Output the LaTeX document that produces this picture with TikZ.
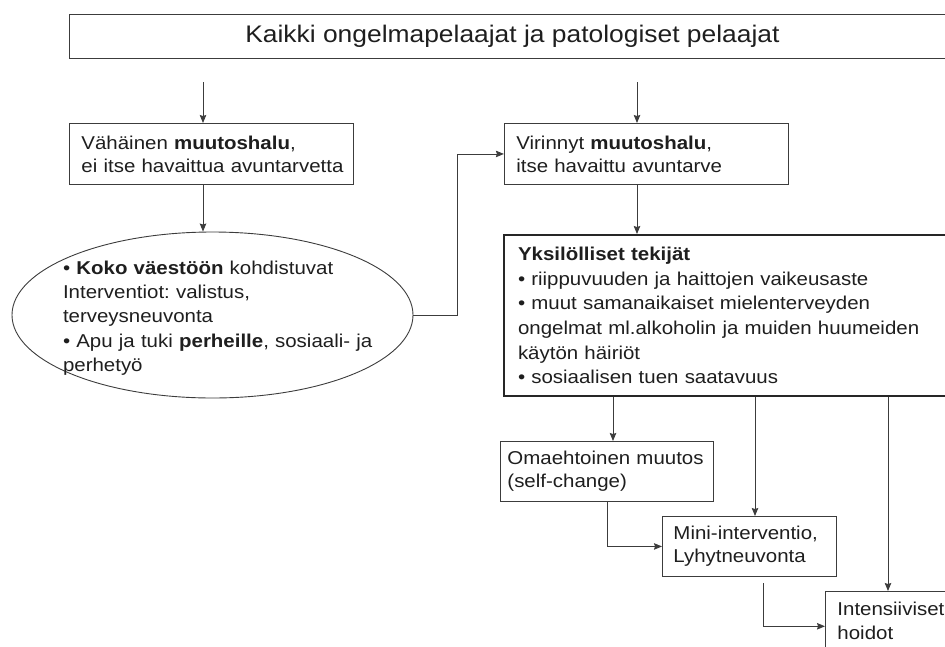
\documentclass[tikz,border=0pt]{standalone}
\usepackage{fontspec}
\setmainfont[FakeStretch=1.1]{Liberation Sans}
\usetikzlibrary{arrows.meta, positioning, shapes.geometric}
\frenchspacing

\definecolor{linegray}{HTML}{3C3C3C}
\definecolor{inkgray}{HTML}{1E1E1E}

\begin{document}
\begin{tikzpicture}[
    x=1pt, y=-1pt,
    >={Stealth[length=8pt, width=6.5pt, inset=1pt]},
    flow/.style={->, draw=linegray, line width=0.9pt},
    box/.style={rectangle, draw=linegray, line width=0.9pt, align=left, text=inkgray,
                inner ysep=0pt, font=\fontsize{18.6}{23}\selectfont},
    bulletbox/.style={box, draw=black!85, line width=2pt, font=\fontsize{18.6}{24.7}\selectfont}
]
    \useasboundingbox (0,0) rectangle (945,646);

    % Top Level
    \node[box, align=center, anchor=north west, minimum width=886pt, minimum height=44pt,
          font=\fontsize{24}{28}\selectfont] (ALL) at (69,14) {Kaikki ongelmapelaajat ja patologiset pelaajat};

    % Second Level
    \node[box, anchor=north west, text width=260pt, inner xsep=12pt, minimum height=61pt] (LOW) at (69,123)
        {Vähäinen \textbf{muutoshalu},\\\mbox{ei itse havaittua avuntarvetta}};
    \node[box, right=150pt of LOW, text width=260pt, inner xsep=12pt, minimum height=61pt] (RISEN)
        {Virinnyt \textbf{muutoshalu},\\itse havaittu avuntarve};

    % Population level (ellipse)
    \node[ellipse, draw=linegray, line width=0.9pt, minimum width=401pt, minimum height=166pt] (POP) at (212.5,315) {};
    \node[text width=350pt, align=left, inner sep=0pt, text=inkgray, font=\fontsize{18.6}{24.2}\selectfont] (POPtext) at (238,318)
        {• \textbf{Koko väestöön} kohdistuvat\\Interventiot: valistus,\\terveysneuvonta\\• Apu ja tuki \textbf{perheille}, sosiaali- ja\\perhetyö};

    % Individual factors
    \node[bulletbox, anchor=north west, text width=424pt, inner xsep=14pt, minimum height=161pt] (FACT) at (503,234)
        {\textbf{Yksilölliset tekijät}\\• riippuvuuden ja haittojen vaikeusaste\\• muut samanaikaiset mielenterveyden\\ongelmat ml.alkoholin ja muiden huumeiden\\käytön häiriöt\\• sosiaalisen tuen saatavuus};

    % Bottom Level (Treatments)
    \node[box, anchor=north west, text width=199pt, inner xsep=7pt, minimum height=60pt] (SELF) at (500,441)
        {Omaehtoinen muutos\\(self-change)};
    \node[box, anchor=north west, text width=152pt, inner xsep=11pt, minimum height=60pt] (MINI) at (662,516)
        {Mini-interventio,\\Lyhytneuvonta};
    \node[box, anchor=north west, text width=140pt, inner xsep=12pt, inner ysep=11pt,
          font=\fontsize{18.6}{24}\selectfont] (INT) at (825,591)
        {Intensiiviset\\hoidot};

    % Edges
    \coordinate (tL) at (203,82);
    \coordinate (tR) at (637,82);
    \coordinate (xL) at (457,0);
    \coordinate (xS) at (613,0);
    \coordinate (xM) at (755,0);
    \coordinate (xI) at (888,0);
    \coordinate (eM) at (763,583);

    % Top -> second level
    \draw[flow] (tL) -- (tL |- LOW.north);
    \draw[flow] (tR) -- (tR |- RISEN.north);

    % Low motivation -> population measures -> risen motivation
    \draw[flow] (tL |- LOW.south) -- (tL |- POP.north);
    \draw[flow] (POP.east) -- (POP.east -| xL) |- (RISEN.west);

    % Risen motivation -> individual factors
    \draw[flow] (tR |- RISEN.south) -- (tR |- FACT.north);

    % Individual factors -> treatments
    \draw[flow] (xS |- FACT.south) -- (xS |- SELF.north);
    \draw[flow] (xM |- FACT.south) -- (xM |- MINI.north);
    \draw[flow] (xI |- FACT.south) -- (xI |- INT.north);

    % Stepped care
    \draw[flow] (SELF.south) |- (MINI.west);
    \draw[flow] (eM) |- ([yshift=-5pt]INT.west);

\end{tikzpicture}
\end{document}
